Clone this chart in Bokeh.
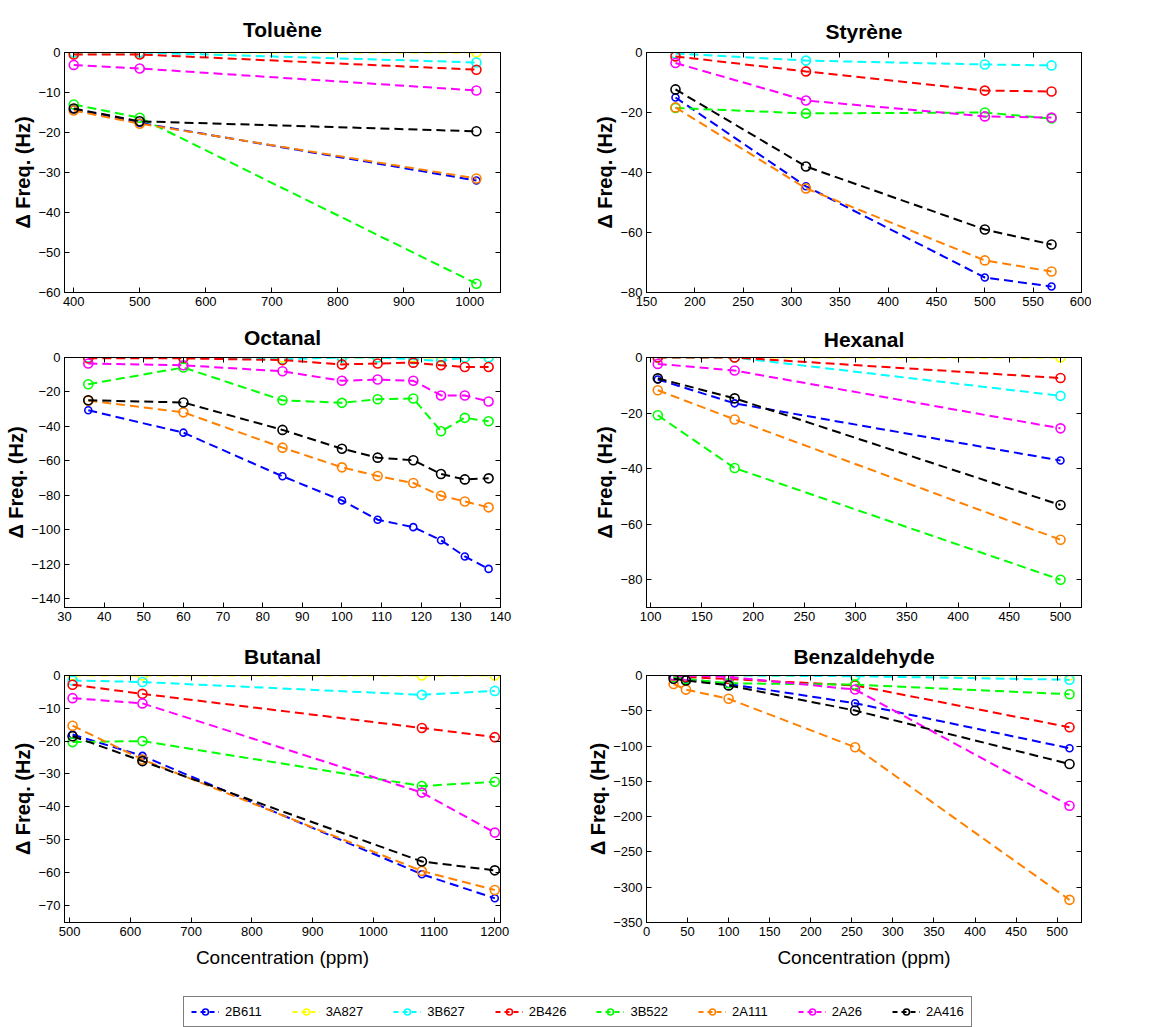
from bokeh.plotting import figure
from bokeh.layouts import column, row
from bokeh.models import Range1d, LinearAxis, FixedTicker, Legend, LegendItem
from bokeh.embed import file_html
from bokeh.resources import INLINE

NAN = float("nan")

SENSORS = ["2B611", "3A827", "3B627", "2B426", "3B522", "2A111", "2A26", "2A416"]
COLORS = ["#0000FF", "#FFFF00", "#00FFFF", "#FF0000", "#00FF00", "#FF8000", "#FF00FF", "#000000"]

# ---- Toluène ----
TOL_X = [400, 500, 1010]
TOL_Y = {
    "2B611": [-14.2, -17.6, -32.0],
    "3A827": [0.0, 0.0, 0.0],
    "3B627": [0.0, 0.0, -2.5],
    "2B426": [-0.5, -0.5, -4.3],
    "3B522": [-13.0, -16.3, -57.8],
    "2A111": [-14.5, -17.8, -31.5],
    "2A26": [-3.1, -4.0, -9.5],
    "2A416": [-14.0, -17.2, -19.7],
}
TOL_XTICKS = [400, 500, 600, 700, 800, 900, 1000]
TOL_YTICKS = [-60, -50, -40, -30, -20, -10, 0]

# ---- Styrène ----
STY_X = [180, 315, 500, 569]
STY_Y = {
    "2B611": [-15.0, -44.6, -75.0, -78.0],
    "3A827": [NAN, NAN, NAN, NAN],
    "3B627": [-0.3, -2.7, -4.0, -4.3],
    "2B426": [-1.3, -6.3, -12.7, -13.0],
    "3B522": [-18.5, -20.3, -20.0, -22.0],
    "2A111": [-18.3, -45.3, -69.3, -73.0],
    "2A26": [-3.5, -16.0, -21.3, -21.7],
    "2A416": [-12.3, -38.0, -59.0, -64.0],
}
STY_XTICKS = [150, 200, 250, 300, 350, 400, 450, 500, 550, 600]
STY_YTICKS = [-80, -60, -40, -20, 0]

# ---- Octanal ----
OCT_X = [36, 60, 85, 100, 109, 118, 125, 131, 137]
OCT_Y = {
    "2B611": [-30.6, -43.6, -68.9, -82.9, -94.1, -98.4, -106.0, -115.4, -122.6],
    "3A827": [0.0, 0.0, 0.0, 0.0, 0.0, 0.0, 0.0, 0.0, 0.0],
    "3B627": [0.0, 0.0, -1.0, 0.0, 0.0, -1.0, -2.0, 0.0, 0.0],
    "2B426": [-0.5, -0.5, -1.5, -4.0, -3.5, -3.0, -4.5, -5.5, -5.5],
    "3B522": [-15.5, -5.8, -24.8, -26.3, -24.2, -23.8, -42.8, -35.0, -37.0],
    "2A111": [-25.0, -31.8, -52.3, -63.7, -68.7, -72.8, -80.2, -83.5, -86.9],
    "2A26": [-3.5, -4.5, -8.0, -13.5, -12.8, -13.5, -22.0, -22.0, -25.5],
    "2A416": [-24.8, -26.1, -42.0, -52.9, -58.1, -59.6, -67.6, -70.7, -70.1],
}
OCT_XTICKS = [30, 40, 50, 60, 70, 80, 90, 100, 110, 120, 130, 140]
OCT_YTICKS = [-140, -120, -100, -80, -60, -40, -20, 0]

# ---- Hexanal ----
HEX_X = [107, 182, 500]
HEX_Y = {
    "2B611": [-7.9, -16.5, -37.1],
    "3A827": [0.0, 0.0, 0.0],
    "3B627": [0.0, 0.0, -13.8],
    "2B426": [0.0, 0.0, -7.4],
    "3B522": [-20.8, -39.8, -80.0],
    "2A111": [-11.8, -22.3, -65.6],
    "2A26": [-2.3, -4.7, -25.5],
    "2A416": [-7.5, -14.7, -53.1],
}
HEX_XTICKS = [100, 150, 200, 250, 300, 350, 400, 450, 500]
HEX_YTICKS = [-80, -60, -40, -20, 0]

# ---- Butanal ----
BUT_X = [505, 620, 1080, 1200]
BUT_Y = {
    "2B611": [-18.0, -24.5, -60.6, -67.9],
    "3A827": [0.0, 0.0, 0.0, 0.0],
    "3B627": [-1.5, -2.0, -5.9, -4.7],
    "2B426": [-2.8, -5.6, -16.0, -18.8],
    "3B522": [-20.3, -20.0, -33.7, -32.4],
    "2A111": [-15.3, -25.6, -59.6, -65.4],
    "2A26": [-6.9, -8.5, -35.7, -47.9],
    "2A416": [-18.5, -26.1, -56.7, -59.4],
}
BUT_XTICKS = [500, 600, 700, 800, 900, 1000, 1100, 1200]
BUT_YTICKS = [-70, -60, -50, -40, -30, -20, -10, 0]

# ---- Benzaldehyde ----
BEN_X = [33, 48, 100, 254, 515]
BEN_Y = {
    "2B611": [-3.0, -5.0, -12.0, -39.3, -103.0],
    "3A827": [0.0, 0.0, 0.0, 0.0, 0.0],
    "3B627": [0.0, 0.0, 0.0, -1.0, -6.0],
    "2B426": [-1.0, -2.0, -5.0, -14.0, -73.3],
    "3B522": [-2.0, -5.0, -11.0, -13.0, -26.5],
    "2A111": [-12.0, -20.0, -33.0, -101.7, -317.9],
    "2A26": [0.0, 0.0, -2.0, -19.9, -184.5],
    "2A416": [-4.7, -7.0, -14.0, -49.7, -125.4],
}
BEN_XTICKS = [0, 50, 100, 150, 200, 250, 300, 350, 400, 450, 500]
BEN_YTICKS = [-350, -300, -250, -200, -150, -100, -50, 0]

FONT = "Liberation Sans"
DASH = "9 5"


def style_axis(ax, ticks, show_labels=True):
    ax.ticker = FixedTicker(ticks=ticks)
    ax.major_tick_in = 5
    ax.major_tick_out = 0
    ax.minor_tick_in = 0
    ax.minor_tick_out = 0
    ax.axis_line_color = "black"
    ax.major_tick_line_color = "black"
    if show_labels:
        ax.major_label_text_font = FONT
        ax.major_label_text_font_size = "13px"
        ax.major_label_text_color = "black"
        ax.major_label_standoff = 4
    else:
        ax.major_label_text_font_size = "1px"
        ax.major_label_text_color = None
        ax.major_label_text_alpha = 0
        ax.major_label_standoff = 0


def panel(title, xs, ydict, xr, yr, xticks, yticks, w, h, bl, br, bt, bb, tstand, xlabel=None):
    p = figure(width=w, height=h, x_range=Range1d(*xr), y_range=Range1d(*yr),
               output_backend="svg", toolbar_location=None, title=title,
               min_border_left=bl, min_border_right=br, min_border_top=bt, min_border_bottom=bb)
    p.title.align = "center"
    p.title.text_font = FONT
    p.title.text_font_size = "21px"
    p.title.text_font_style = "bold"
    p.title.text_color = "black"
    p.title.standoff = tstand
    p.grid.visible = False
    p.outline_line_color = "black"
    p.outline_line_alpha = 1.0
    p.background_fill_color = "white"
    p.border_fill_color = "white"

    style_axis(p.xaxis[0], xticks)
    style_axis(p.yaxis[0], yticks)
    p.yaxis[0].axis_label = "\u0394 Freq. (Hz)"
    p.yaxis[0].axis_label_text_font = FONT
    p.yaxis[0].axis_label_text_font_size = "20px"
    p.yaxis[0].axis_label_text_font_style = "bold"
    p.yaxis[0].axis_label_text_color = "black"
    p.yaxis[0].axis_label_standoff = 1
    if xlabel:
        p.xaxis[0].axis_label = xlabel
        p.xaxis[0].axis_label_text_font = FONT
        p.xaxis[0].axis_label_text_font_size = "19px"
        p.xaxis[0].axis_label_text_font_style = "normal"
        p.xaxis[0].axis_label_text_color = "black"
        p.xaxis[0].axis_label_standoff = 8

    ra = LinearAxis()
    style_axis(ra, yticks, show_labels=False)
    p.add_layout(ra, "right")
    ta = LinearAxis()
    style_axis(ta, xticks, show_labels=False)
    p.add_layout(ta, "above")

    for name, col in zip(SENSORS, COLORS):
        ys = ydict[name]
        p.line(xs, ys, line_color=col, line_width=2, line_dash=DASH)
        sz = 7 if name == "2B611" else 9
        p.scatter(xs, ys, marker="circle", size=sz, line_color=col, line_width=1.6,
                  fill_color=None)
    return p


p1 = panel("Toluène", TOL_X, TOL_Y, (386, 1046.5), (-60, 0), TOL_XTICKS, TOL_YTICKS,
           570, 312, 64, 70, 52, 20, 23)
p2 = panel("Styrène", STY_X, STY_Y, (150, 600), (-80, 0), STY_XTICKS, STY_YTICKS,
           521, 312, 76, 10, 48, 20, 20)
p3 = panel("Octanal", OCT_X, OCT_Y, (30, 140), (-145, 0), OCT_XTICKS, OCT_YTICKS,
           570, 319, 64, 70, 45, 24, 17)
p4 = panel("Hexanal", HEX_X, HEX_Y, (96, 520.5), (-90, 0), HEX_XTICKS, HEX_YTICKS,
           521, 319, 76, 10, 42, 20, 14)
p5 = panel("Butanal", BUT_X, BUT_Y, (491.7, 1209.4), (-75.3, 0), BUT_XTICKS, BUT_YTICKS,
           570, 354, 64, 70, 43, 63, 15, xlabel="Concentration (ppm)")
p6 = panel("Benzaldehyde", BEN_X, BEN_Y, (0, 529.6), (-350, 0), BEN_XTICKS, BEN_YTICKS,
           521, 354, 76, 10, 44, 63, 16, xlabel="Concentration (ppm)")

lf = figure(width=1151, height=42, x_range=Range1d(0, 1), y_range=Range1d(0, 1),
            output_backend="svg", toolbar_location=None, min_border=0)
lf.axis.visible = False
lf.grid.visible = False
lf.outline_line_color = None
items = []
for name, col in zip(SENSORS, COLORS):
    r1 = lf.line(x=[5, 6], y=[5, 5], line_color=col, line_width=2, line_dash="5 4")
    sz = 7 if name == "2B611" else 9
    r2 = lf.scatter(x=[5], y=[5], marker="circle", size=sz, line_color=col, line_width=1.6,
                    fill_color=None)
    items.append(LegendItem(label=name, renderers=[r1, r2]))
leg = Legend(items=items, orientation="horizontal", location=(183, 0),
             padding=7, spacing=30, label_standoff=6, glyph_width=28, glyph_height=15,
             label_text_font=FONT, label_text_font_size="13px", label_text_color="black",
             border_line_color="black", border_line_width=1, margin=0,
             background_fill_color="white")
lf.add_layout(leg, "center")

layout = column(row(p1, p2), row(p3, p4), row(p5, p6), lf)

with open("out.html", "w") as f:
    f.write(file_html(layout, INLINE))
